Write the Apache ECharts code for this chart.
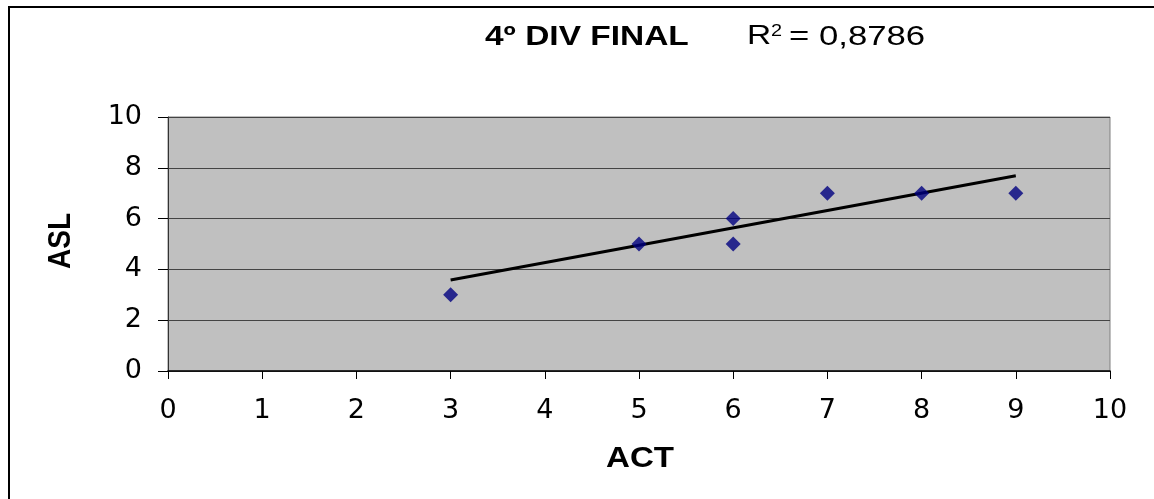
<!DOCTYPE html>
<html><head><meta charset="utf-8">
<script src="https://cdn.jsdelivr.net/npm/echarts@6/dist/echarts.min.js"></script>
<style>html,body{margin:0;padding:0;background:#fff}#c{width:1154px;height:499px}</style>
</head><body><div id="c"></div>
<script>
const actValues = [3, 5, 6, 6, 7, 8, 9];
const aslValues = [3, 5, 6, 5, 7, 7, 7];
const trendX = [3, 9];
const trendY = [3.58, 7.69];
const titleText = '4º DIV FINAL';
const r2Text = '= 0,8786';
const xName = 'ACT';
const yName = 'ASL';

const points = actValues.map((x, i) => [x, aslValues[i]]);
const trend = trendX.map((x, i) => [x, trendY[i]]);
const font = '"Liberation Sans", Arial, sans-serif';
const tickFont = '"DejaVu Sans", sans-serif';
const SX = 1.24;

const chart = echarts.init(document.getElementById('c'));
chart.setOption({
  animation: false,
  backgroundColor: '#fff',
  grid: { left: 168, right: 44, top: 117, bottom: 128, show: true, backgroundColor: '#c0c0c0', borderWidth: 1, borderColor: '#808080' },
  xAxis: {
    type: 'value', min: 0, max: 10, interval: 1,
    axisLine: { onZero: false, lineStyle: { color: '#000', width: 1.5 } },
    axisTick: { show: true, length: 8, lineStyle: { color: '#000' } },
    axisLabel: { fontFamily: tickFont, fontSize: 27, color: '#000', margin: 26 },
    splitLine: { show: false }
  },
  yAxis: {
    type: 'value', min: 0, max: 10, interval: 2,
    axisLine: { show: true, lineStyle: { color: '#333', width: 1 } },
    axisTick: { show: true, length: 10, lineStyle: { color: '#000' } },
    axisLabel: { fontFamily: tickFont, fontSize: 27, color: '#000', margin: 26 },
    splitLine: { show: true, lineStyle: { color: '#444', width: 1 } }
  },
  series: [
    { type: 'line', data: trend, symbol: 'none', lineStyle: { color: '#000', width: 3 }, z: 3 },
    { type: 'scatter', data: points, symbol: 'diamond', symbolSize: [15, 15], itemStyle: { color: '#000080' }, z: 4 }
  ],
  graphic: [
    { type: 'rect', shape: { x: 9, y: 7, width: 1160, height: 510 }, style: { fill: 'none', stroke: '#000', lineWidth: 2 }, z: -1, silent: true },
    { type: 'text', x: 485, y: 38, scaleX: SX, style: { text: titleText, font: 'bold 27px ' + font, fill: '#000', textVerticalAlign: 'middle' } },
    { type: 'text', x: 747, y: 37, scaleX: SX, style: { text: 'R', font: '27px ' + font, fill: '#000', textVerticalAlign: 'middle' } },
    { type: 'text', x: 771, y: 24, scaleX: SX, style: { text: '2', font: '16px ' + font, fill: '#000', textVerticalAlign: 'top' } },
    { type: 'text', x: 789, y: 37, scaleX: SX, style: { text: r2Text, font: '28px ' + font, fill: '#000', textVerticalAlign: 'middle' } },
    { type: 'text', x: 640, y: 459, scaleX: SX * 0.92, style: { text: xName, font: 'bold 29px ' + font, fill: '#000', textAlign: 'center', textVerticalAlign: 'middle' } },
    { type: 'text', x: 61, y: 241, rotation: Math.PI / 2, scaleY: SX * 0.92, style: { text: yName, font: 'bold 28px ' + font, fill: '#000', textAlign: 'center', textVerticalAlign: 'middle' } }
  ]
});
</script></body></html>
